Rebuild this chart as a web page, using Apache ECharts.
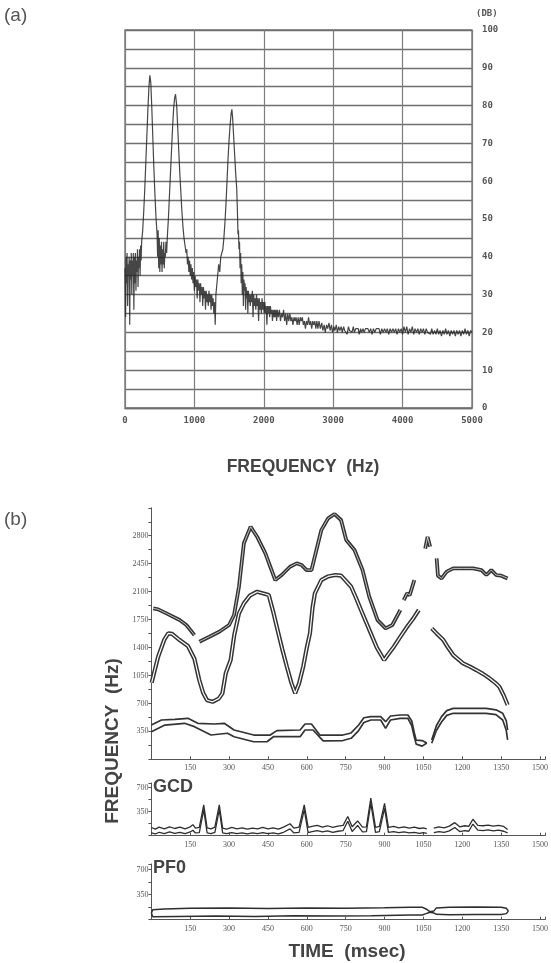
<!DOCTYPE html>
<html><head><meta charset="utf-8">
<script src="https://cdn.jsdelivr.net/npm/echarts@6/dist/echarts.min.js"></script>
<style>html,body{margin:0;padding:0;background:#fff}#c{width:551px;height:963px}</style>
</head><body><div id="c"></div>
<script>
// ---------- Panel (a): spectrum [Hz, dB] ----------
const spectrum = [
[0,37],[8,24],[15,40],[22,33],[30,41],[38,27],[45,38],[52,35],[60,40],[68,22],[75,39],[82,34],[90,41],[98,30],[105,39],[112,35],[120,41],[128,26],[135,40],[142,33],[150,41],[158,31],[165,39],[172,36],[180,42],[188,32],[195,40],[202,37],[210,42],[218,35],[225,43],[232,39],[240,44],
[255,47],[270,52],[285,58],[300,65],[315,72],[330,79],[345,85],[358,88],[365,87.5],[372,86],[385,80],[400,72],[415,64],[430,57],[445,51],[455,48],
[462,46],[470,40],[478,47],[486,37],[494,45],[502,36],[510,43],[518,38],[526,44],[534,36],[542,42],[550,38],[558,44],[566,37],[574,41],[582,40],[590,44],[600,41],[612,46],
[625,50],[640,56],[655,62],[670,68],[685,74],[700,79],[715,82],[728,83],[735,82.5],[745,80],[760,74],[775,68],[790,62],[805,57],[820,52],[835,48],[850,45],[865,43],[880,41],
[890,42],[900,38],[910,40],[920,36],[930,39],[940,35],[950,38],[960,34],[970,37],[980,33],[990,36],[1000,31],[1010,35],[1020,32],[1030,34],[1040,29],[1050,34],[1060,31],[1070,33],[1080,28],[1090,33],[1100,30],[1110,32],[1120,27],[1130,32],[1140,29],[1150,31],[1160,26],[1170,31],[1180,28],[1190,30],[1200,27],[1210,31],[1220,28],[1230,30],[1240,26],[1250,30],[1260,27],[1270,29],[1280,25],[1290,28],[1300,22],[1310,30],
[1320,32],[1335,35],[1350,38],[1365,36],[1380,40],[1395,41],[1410,42],[1425,45],
[1440,49],[1455,54],[1470,60],[1485,66],[1500,71],[1515,75],[1530,78],[1540,79],[1550,77],[1565,72],[1580,67],[1595,62],[1610,58],
[1620,52],[1628,46],[1635,47],[1642,42],[1650,44],[1658,37],[1666,41],[1674,33],[1682,38],[1690,30],[1698,36],[1706,27],[1714,34],[1722,31],[1730,33],[1738,26],[1746,32],[1754,29],[1762,31],[1770,25],[1778,31],[1786,28],[1794,30],
[1805,27],[1815,30],[1825,28],[1835,31],[1845,24],[1855,30],[1865,27],[1875,29],[1885,26],[1895,30],[1905,27],[1915,29],[1925,23],[1935,29],[1945,26],[1955,28],[1965,25],[1975,29],[1985,26],[1995,28],[2005,25],[2015,28],[2025,25],[2035,27],[2045,22],[2055,27],[2065,25],[2075,27],[2085,24],[2095,27],[2105,25],[2115,26],[2125,23],[2135,26],[2145,24],[2155,26],[2165,24],[2175,26],[2185,23],[2195,26],
[2210,24],[2225,26],[2240,23],[2255,25],[2270,24],[2285,26],[2300,23],[2315,25],[2330,22],[2345,25],[2360,23],[2375,25],[2390,23],[2405,24],[2420,22],[2435,24],[2450,23],[2465,24],[2480,22],[2495,24],[2510,22],[2525,24],[2540,23],[2555,24],[2570,22],[2585,23],[2600,21],[2615,23],[2630,22],[2645,24],[2660,22],[2675,23],[2690,21],[2705,23],[2720,22],[2735,23],[2750,21],[2765,23],[2780,21],[2795,23],
[2815,21],[2835,22.5],[2850,20.5],[2870,22],[2885,20],[2905,22],[2920,21],[2940,22.5],[2955,20.5],[2975,22],[2990,20],[3010,21.5],[3025,20.5],[3045,22],[3060,20],[3080,21.5],[3095,20.5],[3115,21.5],[3130,20],[3150,21.5],[3165,20.5],[3185,21],[3200,19.5],[3220,21.5],[3235,20.5],[3255,21],[3270,20],[3290,21.5],[3305,20],[3325,21],[3340,20.5],[3360,21],[3375,19.5],[3395,21],[3410,20],[3430,21],[3445,20],[3465,21],[3480,20.5],[3500,21],[3520,20],[3540,21],[3560,19.5],[3580,21],[3600,20],[3620,21],[3640,20.5],[3660,21],[3680,19.5],[3700,21],[3720,20],[3740,21],[3760,20],[3780,21],[3800,19.5],[3820,21],[3840,20],[3860,21],[3880,20],[3900,21],[3920,19.5],[3940,21],[3960,20],[3980,21],[4000,19.5],[4020,21.5],[4040,20],[4060,21.5],[4080,19.5],[4100,21],[4120,20],[4140,21.5],[4160,19.5],[4180,21],[4200,20],[4220,21],[4240,19.5],[4260,21],[4280,20],[4300,21],[4320,19.5],[4340,21],[4360,20],[4380,20.5],[4400,19.5],[4420,21],[4440,19.5],[4460,20.5],[4480,19.5],[4500,21],[4520,19.5],[4540,20.5],[4560,19],[4580,20.5],[4600,19.5],[4620,21],[4640,19.5],[4660,20.5],[4680,19],[4700,20.5],[4720,19.5],[4740,20.5],[4760,19],[4780,20.5],[4800,19.5],[4820,20.5],[4840,19],[4860,20.5],[4880,19.5],[4900,21],[4920,19.5],[4940,20.5],[4960,19],[4980,20.5],[5000,20]
];
const dbTicks = [0,10,20,30,40,50,60,70,80,90,100];
const hzTicks = [0,1000,2000,3000,4000,5000];

// ---------- Panel (b): formant tracks [msec, Hz]; null = gap ----------
const f3 = [[7,1891],[26,1878],[58,1828],[109,1744],[135,1682],[166,1556],[175,null],
[185,1473],[224,1535],[262,1598],[300,1682],[319,1807],[338,2161],[357,2705],[383,2913],[408,2788],[440,2580],[459,2412],[478,2245],[503,2308],[535,2412],[561,2454],[580,2433],[599,2370],[618,2370],[637,2621],[656,2871],[682,3018],[707,3072],[732,2997],[752,2746],[784,2621],[815,2370],[841,2036],[873,1744],[904,1640],[930,1682],[961,1870],[968,null],
[974,1995],[987,2078],[997,2057],[1015,2245],[1030,null],
[1057,2640],[1066,2786],[1076,2661],[1090,null],
[1101,2517],[1106,2300],[1120,2266],[1140,2350],[1165,2391],[1204,2391],[1242,2391],[1274,2370],[1293,2308],[1312,2370],[1331,2308],[1350,2300],[1375,2266]];

const f2 = [[1,960],[26,1285],[50,1500],[65,1577],[80,1570],[109,1494],[141,1420],[166,1260],[185,990],[200,830],[215,740],[236,720],[260,760],[274,826],[287,1077],[306,1243],[320,1560],[338,1828],[357,1953],[380,2050],[408,2099],[440,2070],[453,2057],[470,1850],[484,1660],[505,1380],[523,1160],[540,960],[555,826],[570,950],[586,1160],[600,1400],[612,1577],[622,1900],[631,2078],[656,2245],[682,2290],[710,2308],[732,2300],[752,2230],[771,2161],[790,2020],[809,1870],[847,1577],[870,1400],[898,1243],[915,1320],[936,1410],[960,1530],[987,1660],[1010,1760],[1032,1870],[1060,null],
[1082,1640],[1100,1580],[1127,1494],[1145,1400],[1165,1306],[1203,1202],[1230,1160],[1254,1118],[1280,1070],[1305,1014],[1330,950],[1343,909],[1360,800],[1375,680]];

const f1Upper = [[0,429],[39,492],[90,501],[141,513],[179,451],[243,442],[281,451],[319,367],[395,304],[459,304],[484,359],[574,367],[593,442],[618,442],[650,304],[682,304],[739,304],[771,330],[800,430],[820,520],[847,534],[885,534],[904,471],[923,542],[960,555],[990,555],[1005,480],[1015,330],[1022,240],[1045,235],[1063,205],[1072,null],
[1082,242],[1100,420],[1120,534],[1140,610],[1165,638],[1292,638],[1330,620],[1356,576],[1370,480],[1375,367]];
const f1Lower = [[0,346],[52,429],[128,451],[166,409],[230,304],[294,326],[319,283],[395,220],[446,220],[471,283],[574,283],[593,367],[624,367],[663,230],[739,235],[771,263],[800,360],[820,460],[847,492],[885,492],[904,388],[923,492],[960,513],[990,513],[1005,420],[1015,280],[1022,190],[1045,165],[1063,205],[1072,null],
[1082,200],[1100,360],[1120,467],[1140,550],[1165,576],[1292,576],[1330,560],[1356,492],[1370,360],[1375,242]];

const gcdUpper = [[0,120],[15,95],[30,125],[50,100],[70,130],[90,105],[110,125],[130,100],[150,130],[160,160],[170,110],[185,120],[202,450],[215,115],[230,100],[245,125],[262,450],[275,110],[290,95],[310,120],[330,100],[350,115],[370,95],[390,110],[410,100],[430,120],[450,100],[470,115],[490,95],[510,125],[535,175],[550,110],[570,125],[590,450],[605,120],[620,135],[640,150],[660,125],[680,145],[700,120],[720,140],[740,150],[758,280],[775,130],[796,215],[815,125],[830,130],[847,550],[865,120],[880,135],[900,470],[915,120],[935,135],[955,115],[975,130],[995,110],[1015,125],[1035,105],[1050,115],[1063,100],[1075,null],
[1090,110],[1110,130],[1130,115],[1150,140],[1171,190],[1190,130],[1210,145],[1225,135],[1241,240],[1260,150],[1280,145],[1300,155],[1320,140],[1340,150],[1360,135],[1375,90]];
const gcdLower = [[0,40],[15,25],[30,50],[50,30],[70,55],[90,35],[110,50],[130,30],[150,55],[160,80],[170,40],[185,45],[202,380],[215,40],[230,30],[245,50],[262,380],[275,40],[290,30],[310,45],[330,30],[350,40],[370,25],[390,40],[410,30],[430,45],[450,30],[470,40],[490,25],[510,50],[535,100],[550,40],[570,50],[590,380],[605,45],[620,60],[640,75],[660,55],[680,70],[700,50],[720,65],[740,75],[758,210],[775,60],[796,150],[815,55],[830,60],[847,470],[865,50],[880,60],[900,400],[915,50],[935,60],[955,45],[975,55],[995,40],[1015,50],[1035,35],[1050,45],[1063,35],[1075,null],
[1090,45],[1110,60],[1130,50],[1150,70],[1171,120],[1190,60],[1210,75],[1225,65],[1241,170],[1260,80],[1280,75],[1300,85],[1320,70],[1340,80],[1360,65],[1375,40]];

const pfoUpper = [[0,90],[5,140],[50,150],[150,160],[300,165],[450,158],[600,165],[750,160],[900,168],[1000,175],[1045,175],[1060,150],[1075,112],[1090,120],[1100,165],[1150,175],[1250,178],[1350,175],[1370,160],[1378,120]];
const pfoLower = [[0,90],[5,40],[100,45],[250,50],[400,45],[550,55],[700,50],[850,55],[1000,65],[1045,65],[1060,85],[1075,105],[1090,95],[1100,75],[1150,70],[1250,72],[1350,72],[1370,85],[1378,120]];

const timeTicks = [150,300,450,600,750,900,1050,1200,1350,1500];
const freqTicks = [350,700,1050,1400,1750,2100,2450,2800];
const smallTicks = [350,700];

// ---------- chart ----------
const chart = echarts.init(document.getElementById('c'), null, {renderer:'canvas'});
const ink = '#333333';
const labFontA = {color:'#555', fontSize:9, fontFamily:'DejaVu Sans Mono', fontWeight:'bold'};
const labFontB = {color:'#555', fontSize:8, fontFamily:'Liberation Serif'};

function tAxis(gi){
  return {type:'value', gridIndex:gi, min:0, max:1520, interval:150,
    axisLine:{show:true, lineStyle:{color:'#555', width:1}},
    axisTick:{show:true, inside:true, length:3, lineStyle:{color:'#555'}},
    axisLabel:Object.assign({margin:5, formatter:v=>timeTicks.indexOf(v)>=0?String(v):''}, labFontB),
    splitLine:{show:false}};
}
function fAxis(gi, max, labels){
  return {type:'value', gridIndex:gi, min:0, max:max, interval:175,
    axisLine:{show:true, lineStyle:{color:'#555', width:1}},
    axisTick:{show:true, length:3, lineStyle:{color:'#555'}},
    axisLabel:Object.assign({margin:3, formatter:v=>labels.indexOf(v)>=0?String(v):''}, labFontB),
    splitLine:{show:false}};
}
function ln(data, xi, w, color, z){
  return {type:'line', xAxisIndex:xi, yAxisIndex:xi, data:data, symbol:'none', connectNulls:false,
    lineStyle:{color:color, width:w}, z:z||2, silent:true, animation:false, clip:true};
}

chart.setOption({
  animation:false,
  backgroundColor:'#ffffff',
  grid:[
    {left:125, top:30, width:347, height:378, show:true, borderColor:'#6f6f6f', borderWidth:1.3},
    {left:151.4, top:507.8, width:398.2, height:251.5},
    {left:151.4, top:782.9, width:398.2, height:52.8},
    {left:151.4, top:863.9, width:398.2, height:55.8}
  ],
  xAxis:[
    {type:'value', gridIndex:0, min:0, max:5000, interval:1000,
     axisLine:{show:true, lineStyle:{color:'#6f6f6f', width:1.3}},
     axisTick:{show:false},
     axisLabel:Object.assign({margin:8, formatter:v=>hzTicks.indexOf(v)>=0?String(v):''}, labFontA),
     splitLine:{show:true, lineStyle:{color:'#7d7d7d', width:1.2}}},
    tAxis(1), tAxis(2), tAxis(3)
  ],
  yAxis:[
    {type:'value', gridIndex:0, position:'right', min:0, max:100, interval:5,
     axisLine:{show:false}, axisTick:{show:false},
     axisLabel:Object.assign({margin:10, formatter:v=>dbTicks.indexOf(v)>=0?String(v):''}, labFontA),
     splitLine:{show:true, lineStyle:{color:'#6f6f6f', width:1.3}}},
    fAxis(1, 3150, freqTicks), fAxis(2, 770, smallTicks), fAxis(3, 780, smallTicks)
  ],
  series:[
    {type:'line', xAxisIndex:0, yAxisIndex:0, data:spectrum, symbol:'none',
     lineStyle:{color:'#262626', width:1.2, opacity:0.85}, silent:true, animation:false, z:3},
    ln(f3,1,3.8,ink,2), ln(f3,1,0.7,'#ffffff',3),
    ln(f2,1,4.2,ink,2), ln(f2,1,1.2,'#ffffff',3),
    ln(f1Upper,1,1.7,ink,2), ln(f1Lower,1,1.7,ink,2),
    ln(gcdUpper,2,1.3,'#2e2e2e',2), ln(gcdLower,2,1.3,'#2e2e2e',2),
    ln(pfoUpper,3,1.5,'#2e2e2e',2), ln(pfoLower,3,1.5,'#2e2e2e',2)
  ],
  graphic:[
    {type:'text', left:4, top:6, style:{text:'(a)', fill:'#555', font:'19px "Liberation Sans"'}},
    {type:'text', left:476, top:9, style:{text:'(DB)', fill:'#555', font:'bold 9px "DejaVu Sans Mono"'}},
    {type:'text', x:303, y:467, style:{text:'FREQUENCY  (Hz)', fill:'#444', font:'bold 17.5px "Liberation Sans"', align:'center', verticalAlign:'middle'}},
    {type:'text', left:4, top:510, style:{text:'(b)', fill:'#555', font:'19px "Liberation Sans"'}},
    {type:'text', x:113, y:741, rotation:Math.PI/2, style:{text:'FREQUENCY  (Hz)', fill:'#444', font:'bold 19px "Liberation Sans"', align:'center', verticalAlign:'middle'}},
    {type:'text', left:153, top:778, style:{text:'GCD', fill:'#444', font:'bold 18px "Liberation Sans"'}},
    {type:'text', left:153, top:859, style:{text:'PF0', fill:'#444', font:'bold 18px "Liberation Sans"'}},
    {type:'text', x:347, y:952, style:{text:'TIME  (msec)', fill:'#444', font:'bold 19px "Liberation Sans"', align:'center', verticalAlign:'middle'}}
  ]
});
</script></body></html>
